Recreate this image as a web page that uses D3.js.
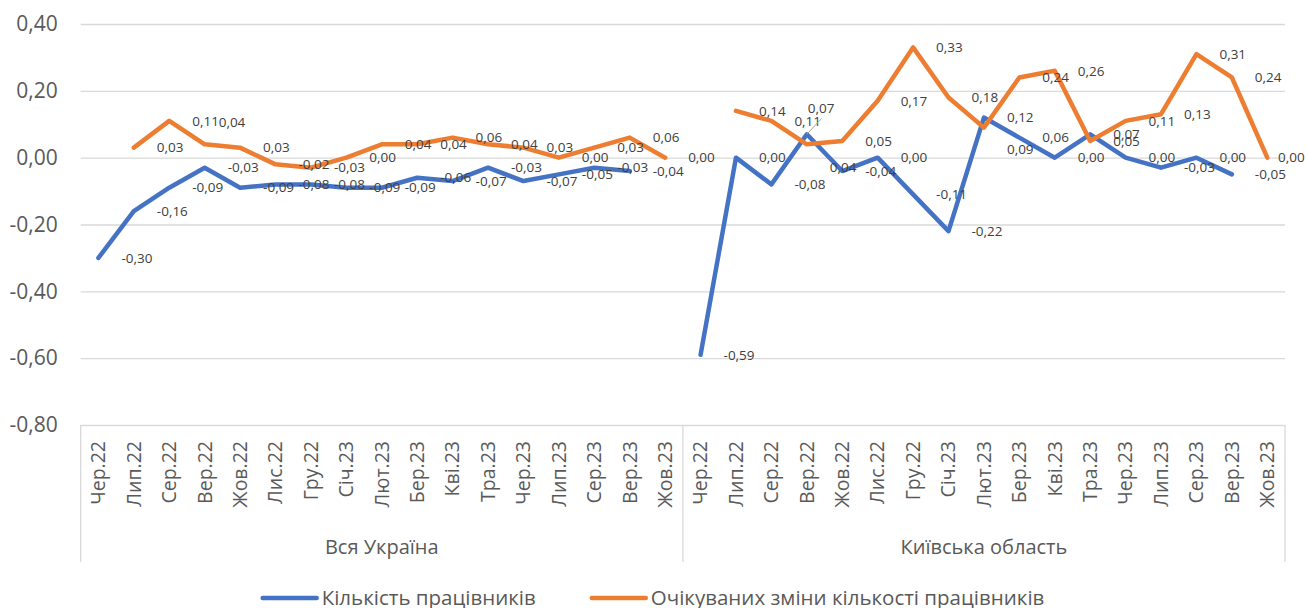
<!DOCTYPE html>
<html>
<head>
<meta charset="utf-8">
<script src="https://cdn.jsdelivr.net/npm/d3@7"></script>
<style>
  body { margin: 0; background: #fff; }
  svg text { font-family: "Open Sans", "Noto Sans", sans-serif; }
</style>
</head>
<body>
<script>
var W = 1307, H = 608;
var margin = {top: 24, right: 22, bottom: 183, left: 80.7};

// categories
var groups = ["Вся Україна", "Київська область"];
var months = ["Чер.22", "Лип.22", "Сер.22", "Вер.22", "Жов.22", "Лис.22", "Гру.22",
  "Січ.23", "Лют.23", "Бер.23", "Кві.23", "Тра.23", "Чер.23", "Лип.23", "Сер.23", "Вер.23", "Жов.23"];

// series: Кількість працівників
var workersUA   = [-0.30, -0.16, -0.09, -0.03, -0.09, -0.08, -0.08, -0.09, -0.09, -0.06, -0.07, -0.03, -0.07, -0.05, -0.03, -0.04, null];
var workersKyiv = [-0.59, 0.00, -0.08, 0.07, -0.04, 0.00, -0.11, -0.22, 0.12, 0.06, 0.00, 0.07, 0.00, -0.03, 0.00, -0.05, null];
// series: Очікуваних зміни кількості працівників
var expectUA    = [null, 0.03, 0.11, 0.04, 0.03, -0.02, -0.03, 0.00, 0.04, 0.04, 0.06, 0.04, 0.03, 0.00, 0.03, 0.06, 0.00];
var expectKyiv  = [null, 0.14, 0.11, 0.04, 0.05, 0.17, 0.33, 0.18, 0.09, 0.24, 0.26, 0.05, 0.11, 0.13, 0.31, 0.24, 0.00];

var yTicks = [-0.8, -0.6, -0.4, -0.2, 0, 0.2, 0.4];
var seriesNames = ["Кількість працівників", "Очікуваних зміни кількості працівників"];
var colors = ["#4472C4", "#ED7D31"];

var width = W - margin.left - margin.right,
    height = H - margin.top - margin.bottom;

var keys = [];
groups.forEach(function(g, gi) {
  months.forEach(function(m, mi) { keys.push(gi + "|" + mi); });
});

var x = d3.scaleBand().domain(keys).range([0, width]).padding(0);
var y = d3.scaleLinear().domain([-0.8, 0.4]).range([height, 0]);
var cx = function(k) { return x(k) + x.bandwidth() / 2; };

var fmt = function(v) { return v.toFixed(2).replace(".", ","); };

var svg = d3.select("body").append("svg")
  .attr("width", W).attr("height", H);

var main = svg.append("g")
  .attr("transform", "translate(" + margin.left + "," + margin.top + ")");

// y axis + gridlines
var yAxis = d3.axisLeft(y).tickValues(yTicks).tickSize(-width).tickPadding(23).tickFormat(fmt);
var gy = main.append("g").call(yAxis);
gy.select(".domain").remove();
gy.selectAll("line").attr("stroke", "#d9d9d9").attr("stroke-width", 1.3);
gy.selectAll("text").attr("fill", "#595959").style("font-size", "21px");

// x axis (months)
var xAxis = d3.axisBottom(x).tickSize(0).tickFormat(function(k) { return months[+k.split("|")[1]]; });
var gx = main.append("g").attr("transform", "translate(0," + height + ")").call(xAxis);
gx.select(".domain").remove();
gx.selectAll("text")
  .attr("transform", "rotate(-90)")
  .attr("x", -16).attr("y", 0).attr("dy", "0.35em")
  .style("text-anchor", "end")
  .style("font-size", "19.5px")
  .attr("fill", "#595959");

// group separators and group labels
var sepBottom = 137;
var bounds = [0, x("1|0"), width];
main.selectAll(".sep").data(bounds).enter().append("line")
  .attr("x1", function(d) { return d; }).attr("x2", function(d) { return d; })
  .attr("y1", height).attr("y2", height + sepBottom)
  .attr("stroke", "#d9d9d9").attr("stroke-width", 1.3);

main.selectAll(".grp").data(groups).enter().append("text")
  .attr("x", function(d, i) { return (bounds[i] + bounds[i + 1]) / 2; })
  .attr("y", height + 122)
  .attr("dy", "0.35em")
  .attr("text-anchor", "middle")
  .attr("fill", "#595959")
  .style("font-size", "20px")
  .text(function(d) { return d; });

// build series
function toPoints(arrs) {
  var pts = [];
  arrs.forEach(function(arr, gi) {
    arr.forEach(function(v, mi) { pts.push({k: gi + "|" + mi, v: v, g: gi, m: mi}); });
  });
  return pts;
}
var series = [toPoints([workersUA, workersKyiv]), toPoints([expectUA, expectKyiv])];

var line = d3.line()
  .defined(function(d) { return d.v != null; })
  .x(function(d) { return cx(d.k); })
  .y(function(d) { return y(d.v); });

series.forEach(function(pts, si) {
  // lines do not connect across the two groups
  groups.forEach(function(g, gi) {
    main.append("path")
      .datum(pts.filter(function(d) { return d.g === gi; }))
      .attr("d", line)
      .attr("fill", "none")
      .attr("stroke", colors[si])
      .attr("stroke-width", 4.5)
      .attr("stroke-linejoin", "round")
      .attr("stroke-linecap", "round");
  });
});

// hand-moved labels in the original
var nudge = {
  "1:0|3": [-9, -22],
  "1:1|3": [0, 23],
  "1:1|8": [0, 22],
  "0:1|3": [-22, -26]
};

series.forEach(function(pts, si) {
  main.selectAll(".lbl" + si)
    .data(pts.filter(function(d) { return d.v != null; }))
    .enter().append("text")
    .attr("x", function(d) { var n = nudge[si + ":" + d.k] || [0, 0]; return cx(d.k) + 23 + n[0]; })
    .attr("y", function(d) { var n = nudge[si + ":" + d.k] || [0, 0]; return y(d.v) + n[1]; })
    .attr("dy", "0.35em")
    .attr("fill", "#404040")
    .style("font-size", "13.5px")
    .text(function(d) { return fmt(d.v); })
    .each(function() {
      // keep labels inside the chart, as Excel does
      var bx = this.getBBox(), lim = W - margin.left - 2;
      if (bx.x + bx.width > lim) d3.select(this).attr("x", lim - bx.width);
    });
});

// leader line for the moved label
var lk = "1|3";
main.append("line")
  .attr("x1", cx(lk)).attr("y1", y(workersKyiv[3]))
  .attr("x2", cx(lk) + 15).attr("y2", y(workersKyiv[3]) - 16)
  .attr("stroke", "#a6a6a6").attr("stroke-width", 1);

// legend
var legend = svg.append("g").attr("transform", "translate(0,598)");
var items = legend.selectAll(".leg").data(seriesNames).enter().append("g");
items.append("line")
  .attr("x1", 0).attr("x2", 54).attr("y1", 0).attr("y2", 0)
  .attr("stroke", function(d, i) { return colors[i]; })
  .attr("stroke-width", 4.5).attr("stroke-linecap", "round");
items.append("text")
  .attr("x", 59).attr("dy", "0.35em")
  .attr("fill", "#595959")
  .style("font-size", "20.5px")
  .text(function(d) { return d; });
var offs = [], pos = 0;
items.each(function() {
  offs.push(pos);
  pos += this.getBBox().width + 56;
});
pos -= 56;
var start = (W - pos) / 2;
items.attr("transform", function(d, i) { return "translate(" + (start + offs[i]) + ",0)"; });
</script>
</body>
</html>
